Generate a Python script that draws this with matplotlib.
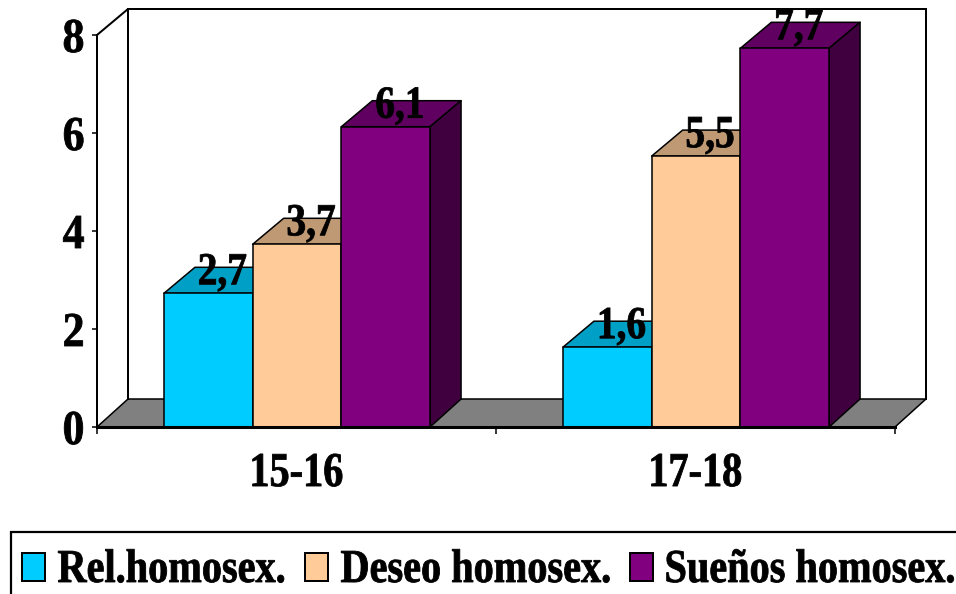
import matplotlib
matplotlib.use("Agg")
import matplotlib.pyplot as plt
from matplotlib.patches import Polygon, Rectangle
from matplotlib.patheffects import AbstractPathEffect
from matplotlib.transforms import Affine2D

categories = ["15-16", "17-18"]
series_names = ["Rel.homosex.", "Deseo homosex.", "Sueños homosex."]
rel_values = [2.7, 1.6]
deseo_values = [3.7, 5.5]
suenos_values = [6.1, 7.7]
value_labels = [["2,7", "1,6"], ["3,7", "5,5"], ["6,1", "7,7"]]
y_ticks = [0, 2, 4, 6, 8]

front_colors = ["#00CCFF", "#FFCC99", "#800080"]
top_colors = ["#009FC6", "#BF9973", "#600060"]
side_colors = ["#006680", "#80664D", "#400040"]

W, H = 956, 594
BAR_W = 88.7 / 399
BAR_SHIFT = 0.5 / 399
TOP_LIFT = 1.4 / 49
DX = 31 / 399
DY = 26 / 49
FLOOR_DY = 28 / 49
FONT = "Liberation Serif"


class Reshape(AbstractPathEffect):
    """Scale a real text about an anchor and its baseline, and thicken it a little."""
    def __init__(self, box_fn, sx, sy, anchor, stroke):
        super().__init__()
        self.box_fn, self.sx, self.sy, self.anchor, self.stroke = box_fn, sx, sy, anchor, stroke

    def draw_path(self, renderer, gc, tpath, affine, rgbFace=None):
        box = self.box_fn(renderer)
        cx = {"center": (box.x0 + box.x1) / 2, "left": box.x0, "right": box.x1}[self.anchor]
        base = affine.get_matrix()[1, 2]
        aff = (affine + Affine2D().translate(-cx, -base).scale(self.sx, self.sy)
               .translate(cx, base))
        gc0 = renderer.new_gc()
        gc0.copy_properties(gc)
        gc0.set_linewidth(self.stroke)
        gc0.set_foreground("black")
        renderer.draw_path(gc0, tpath, aff, rgbFace)
        gc0.restore()


def condense(t, sx=1.0, sy=1.0, anchor="center", stroke=0.6):
    full_extent = t.get_window_extent

    def full(renderer=None):
        return full_extent(renderer)

    t.set_path_effects([Reshape(full, sx, sy, anchor, stroke)])


fig = plt.figure(figsize=(W / 100, H / 100), dpi=100, facecolor="white")
ax = fig.add_axes([97 / W, (H - 427) / H, 798 / W, 392 / H])
ax.set_xlim(-0.5, 1.5)
ax.set_ylim(0, 8)
ax.patch.set_visible(False)
for s in ("top", "right"):
    ax.spines[s].set_visible(False)
ax.spines["left"].set_linewidth(1.44)
ax.spines["bottom"].set_linewidth(2.2)
ax.spines["left"].set_zorder(1)
ax.spines["bottom"].set_zorder(8)

x0, x1 = ax.get_xlim()
y0, y1 = ax.get_ylim()
LW = 1.1

# walls and floor
ax.add_patch(Polygon([(x0, y0), (x1, y0), (x1 + DX, y0 + FLOOR_DY), (x0 + DX, y0 + FLOOR_DY)],
                     fc="#808080", ec="black", lw=LW, clip_on=False, zorder=1))
ax.plot([x0, x0 + DX, x1 + DX, x1 + DX], [y1, y1 + DY, y1 + DY, y0 + FLOOR_DY],
        color="black", lw=1.44, clip_on=False, zorder=1, solid_joinstyle="miter")
ax.plot([x0 + DX, x0 + DX], [y0 + FLOOR_DY, y1 + DY], color="black", lw=1.44, clip_on=False, zorder=1)

# bars
all_values = [rel_values, deseo_values, suenos_values]
z = 2
for ci in range(len(categories)):
    for si, vals in enumerate(all_values):
        v = vals[ci] + TOP_LIFT
        left = ci + (si - 1.5) * BAR_W + BAR_SHIFT
        right = left + BAR_W
        style = dict(ec="black", lw=LW, clip_on=False, zorder=z, joinstyle="round")
        ax.add_patch(Polygon([(left, v), (right, v), (right + DX, v + DY), (left + DX, v + DY)],
                             fc=top_colors[si], **style))
        ax.add_patch(Polygon([(right, 0), (right + DX, FLOOR_DY), (right + DX, v + DY), (right, v)],
                             fc=side_colors[si], **style))
        ax.add_patch(Rectangle((left, 0), BAR_W, v, fc=front_colors[si], **style))
        z += 0.01

# value labels
for ci in range(len(categories)):
    for si, vals in enumerate(all_values):
        t = ax.annotate(value_labels[si][ci],
                        xy=(ci + (si - 1) * BAR_W, vals[ci]), xytext=(10.5, 7.5),
                        textcoords="offset points", ha="center", va="baseline",
                        fontfamily=FONT, fontweight="bold", fontsize=28.4,
                        color="black", zorder=10, annotation_clip=False)
        condense(t, sy=33 / 28.4)

# ticks
ax.set_xticks(range(len(categories)))
ax.set_xticklabels(categories)
ax.set_xticks([-0.5, 0.5, 1.5], minor=True)
ax.tick_params(axis="x", which="major", length=0, pad=42.5)
ax.tick_params(axis="x", which="minor", length=5, width=1.1)
ax.set_yticks(y_ticks)
ax.tick_params(axis="y", length=3.5, width=1.1, pad=5.5)
for t in ax.get_xticklabels():
    t.set(fontfamily=FONT, fontweight="bold", fontsize=29, va="baseline")
    condense(t, sy=35 / 29)
for t in ax.get_yticklabels():
    t.set(fontfamily=FONT, fontweight="bold", fontsize=35)
    condense(t, sx=0.9, anchor="right")

# legend, laid out in pixels measured from the top-left corner
px = Affine2D().scale(1 / W, -1 / H).translate(0, 1) + fig.transFigure
fig.add_artist(Rectangle((11, 532), 1000, 100, fc="white", ec="black", lw=1.6, transform=px))
swatch_x = [22.5, 305, 630]
text_x = [57.5, 340.5, 664.5]
for name, c, sx, tx in zip(series_names, front_colors, swatch_x, text_x):
    fig.add_artist(Rectangle((sx, 553), 23, 28, fc=c, ec="black", lw=1.44, transform=px))
    t = fig.text(tx, 582, name, transform=px, ha="left", va="baseline",
                 fontfamily=FONT, fontweight="bold", fontsize=29, color="black")
    condense(t, sy=34 / 29, anchor="left")

fig.savefig("out.png", dpi=100)
